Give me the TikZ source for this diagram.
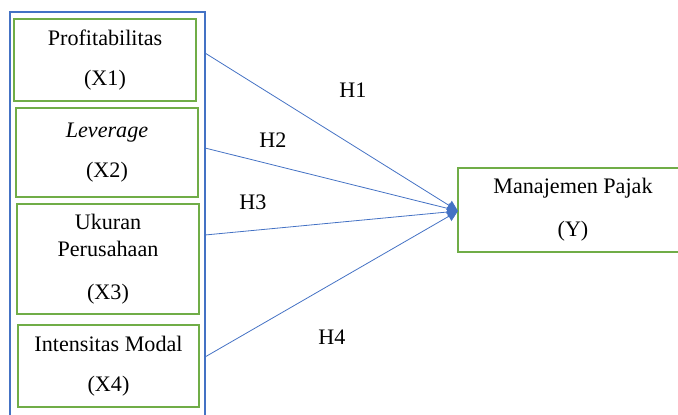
\documentclass[tikz,border=0pt]{standalone}
\usepackage{fontspec}
\setmainfont{Liberation Serif}
\usetikzlibrary{arrows.meta}
\definecolor{wblue}{HTML}{4472C4}
\definecolor{wgreen}{HTML}{70AD47}
\tikzset{
  varbox/.style={draw=wgreen, line width=1.1pt, inner sep=0pt, align=center,
    font=\fontsize{16.6}{20.25}\selectfont},
  hyp/.style={draw=wblue, line width=0.6pt, -{Triangle[length=8pt,width=8pt]}},
  hlabel/.style={font=\fontsize{16.6}{20}\selectfont, inner sep=0pt}
}
\begin{document}
\begin{tikzpicture}[x=0.75pt,y=-0.75pt]
\useasboundingbox (0,0) rectangle (678,414);
\draw[wblue, line width=1.5pt] (10,12) rectangle (205,418);
\node[varbox, minimum width=136.5pt, minimum height=61.5pt] (x1) at (105,60) {Profitabilitas\\[9.75pt](X1)};
\node[varbox, minimum width=136.5pt, minimum height=66.75pt] (x2) at (107,152.5) {\textit{Leverage}\\[9.75pt](X2)};
\node[varbox, minimum width=136.5pt, minimum height=82.5pt] (x3) at (108,259) {Ukuran\\Perusahaan\\[12pt](X3)};
\node[varbox, minimum width=135.75pt, minimum height=61.5pt] (x4) at (108.5,366) {Intensitas Modal\\[9.75pt](X4)};
\node[varbox, minimum width=172.5pt, minimum height=63pt] (y) at (573,210) {Manajemen Pajak\\[12pt](Y)};
\coordinate (s1) at (205,53);
\coordinate (s2) at (205,148);
\coordinate (s3) at (205,235);
\coordinate (s4) at (205,357);
\coordinate (tip) at (458,211);
\draw[hyp] (s1) -- (tip);
\draw[hyp] (s2) -- (tip);
\draw[hyp] (s3) -- (tip);
\draw[hyp] (s4) -- (tip);
\node[hlabel] (h1) at (353,90) {H1};
\node[hlabel] (h2) at (273,140) {H2};
\node[hlabel] (h3) at (253,202) {H3};
\node[hlabel] (h4) at (332,337) {H4};
\end{tikzpicture}
\end{document}
